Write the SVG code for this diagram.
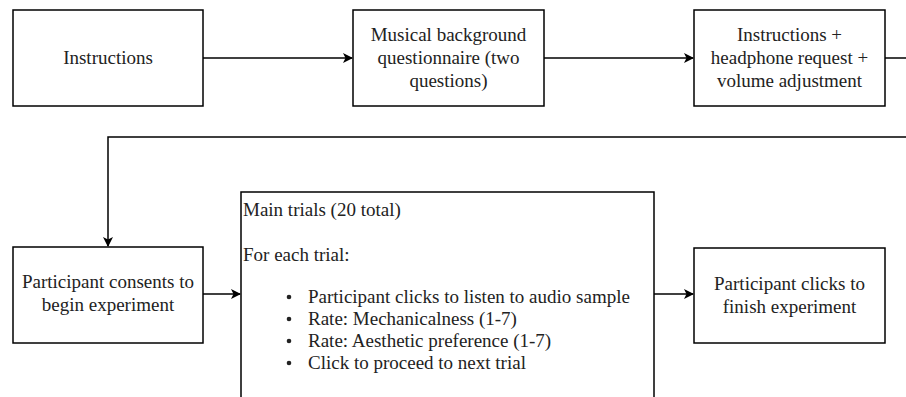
<svg xmlns="http://www.w3.org/2000/svg" width="906" height="397" viewBox="0 0 906 397">
<defs>
<marker id="arr" viewBox="0 0 10 10" refX="9" refY="5" markerWidth="10" markerHeight="10" markerUnits="userSpaceOnUse" orient="auto">
<path d="M0,0 L10,5 L0,10 L2.5,5 Z" fill="#000"/>
</marker>
<style>
.box{fill:#fff;stroke:#000;stroke-width:1.5}
.t{font-family:"Liberation Serif","Times New Roman",serif;font-size:19px;fill:#222}
.c{text-anchor:middle}
.ln{fill:none;stroke:#000;stroke-width:1.5}
</style>
</defs>
<rect width="906" height="397" fill="#fff"/>
<g id="connectors">
<line class="ln" x1="203" y1="58" x2="352" y2="58" marker-end="url(#arr)"/>
<line class="ln" x1="544" y1="58" x2="693" y2="58" marker-end="url(#arr)"/>
<polyline class="ln" points="885,58 906,58"/>
<polyline class="ln" points="906,137 108,137 108,246" marker-end="url(#arr)"/>
<line class="ln" x1="203" y1="294" x2="240" y2="294" marker-end="url(#arr)"/>
<line class="ln" x1="654" y1="294" x2="693" y2="294" marker-end="url(#arr)"/>
</g>
<g id="n1">
<rect class="box" x="13" y="10" width="190" height="96"/>
<text class="t c" x="108" y="64">Instructions</text>
</g>
<g id="n2">
<rect class="box" x="353" y="10" width="191" height="96"/>
<text class="t c" x="448.5" y="41">Musical background</text>
<text class="t c" x="448.5" y="64">questionnaire (two</text>
<text class="t c" x="448.5" y="87">questions)</text>
</g>
<g id="n3">
<rect class="box" x="694" y="10" width="191" height="96"/>
<text class="t c" x="789.5" y="41">Instructions +</text>
<text class="t c" x="789.5" y="64">headphone request +</text>
<text class="t c" x="789.5" y="87">volume adjustment</text>
</g>
<g id="n4">
<rect class="box" x="13" y="247" width="190" height="96"/>
<text class="t c" x="108" y="288">Participant consents to</text>
<text class="t c" x="108" y="311">begin experiment</text>
</g>
<g id="n5">
<rect class="box" x="241" y="192" width="413" height="220"/>
<text class="t" x="243" y="216">Main trials (20 total)</text>
<text class="t" x="243" y="261">For each trial:</text>
<circle cx="289" cy="297" r="2.3" fill="#222"/>
<circle cx="289" cy="319" r="2.3" fill="#222"/>
<circle cx="289" cy="341" r="2.3" fill="#222"/>
<circle cx="289" cy="363" r="2.3" fill="#222"/>
<text class="t" x="308" y="303">Participant clicks to listen to audio sample</text>
<text class="t" x="308" y="325">Rate: Mechanicalness (1-7)</text>
<text class="t" x="308" y="347">Rate: Aesthetic preference (1-7)</text>
<text class="t" x="308" y="369">Click to proceed to next trial</text>
</g>
<g id="n6">
<rect class="box" x="694" y="248" width="191" height="95"/>
<text class="t c" x="789.5" y="290">Participant clicks to</text>
<text class="t c" x="789.5" y="313">finish experiment</text>
</g>
</svg>
